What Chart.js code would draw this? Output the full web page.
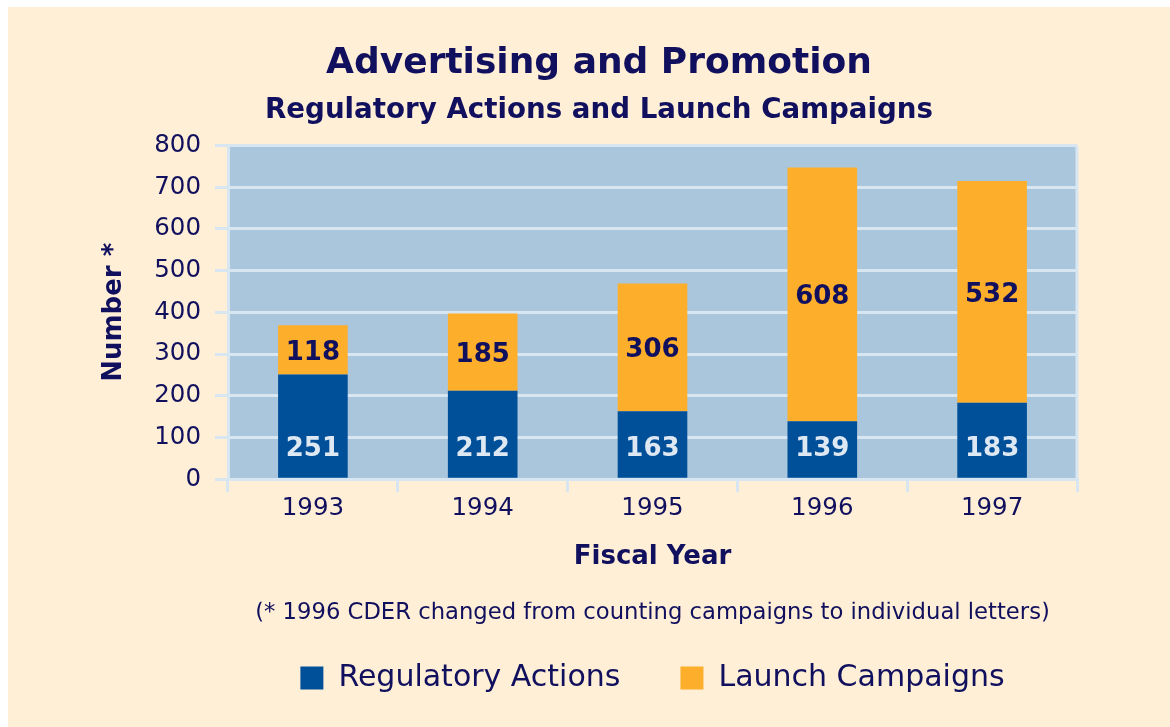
<!DOCTYPE html>
<html>
<head>
<meta charset="utf-8">
<script src="https://cdn.jsdelivr.net/npm/chart.js@4.4.1/dist/chart.umd.min.js"></script>
<style>
  html, body { margin: 0; padding: 0; background: #ffffff; }
  #wrap { position: absolute; left: 8px; top: 7px; width: 1162px; height: 720px; background: #FFEFD6; }
</style>
</head>
<body>
<div id="wrap"><canvas id="chart" width="1162" height="720"></canvas></div>
<script>
// values
const years = ["1993", "1994", "1995", "1996", "1997"];
const regulatoryActions = [251, 212, 163, 139, 183];
const launchCampaigns = [118, 185, 306, 608, 532];
const yTicks = [0, 100, 200, 300, 400, 500, 600, 700, 800];

const navy = "#10105E";
const gridCol = "#D8E6F1";
const fontFam = "'DejaVu Sans', sans-serif";

// light blue plot area with a pale frame
const plotBg = {
    id: "plotBg",
    beforeDraw(chart) {
        const a = chart.chartArea, ctx = chart.ctx;
        ctx.save();
        ctx.fillStyle = "#AAC6DD";
        ctx.fillRect(a.left, a.top, a.right - a.left, a.bottom - a.top);
        ctx.strokeStyle = gridCol;
        ctx.lineWidth = 3;
        ctx.beginPath();
        ctx.moveTo(a.right, a.top);
        ctx.lineTo(a.right, a.bottom);
        ctx.stroke();
        ctx.restore();
    }
};

// numbers inside the bars
const barLabels = {
    id: "barLabels",
    afterDatasetsDraw(chart) {
        const ctx = chart.ctx;
        ctx.save();
        ctx.font = "bold 26px " + fontFam;
        ctx.textAlign = "center";
        ctx.textBaseline = "middle";
        chart.data.datasets.forEach((ds, i) => {
            chart.getDatasetMeta(i).data.forEach((bar, j) => {
                let y;
                if (i === 0) {
                    ctx.fillStyle = "#DDE8F3";
                    y = bar.base - 28;
                } else {
                    ctx.fillStyle = navy;
                    y = (bar.y + bar.base) / 2 + 3;
                }
                ctx.fillText(ds.data[j], bar.x, y);
            });
        });
        ctx.restore();
    }
};

new Chart(document.getElementById("chart"), {
    type: "bar",
    data: {
        labels: years,
        datasets: [{
            label: "Regulatory Actions",
            data: regulatoryActions,
            backgroundColor: "#004F99"
        }, {
            label: "Launch Campaigns",
            data: launchCampaigns,
            backgroundColor: "#FDAE2A"
        }]
    },
    options: {
        responsive: false,
        animation: false,
        layout: { padding: { left: 113, right: 93, top: 0, bottom: 24 } },
        datasets: { bar: { categoryPercentage: 1, barPercentage: 0.41 } },
        scales: {
            x: {
                stacked: true,
                grid: { display: true, drawOnChartArea: false, tickLength: 13, color: gridCol, lineWidth: 3 },
                border: { display: true, color: gridCol, width: 3 },
                ticks: { color: navy, font: { family: fontFam, size: 24.5 }, padding: 2 },
                title: {
                    display: true, text: "Fiscal Year", color: navy,
                    font: { family: fontFam, size: 26, weight: "bold" },
                    padding: { top: 16, bottom: 29 }
                }
            },
            y: {
                stacked: true,
                min: 0, max: 800,
                afterFit(scale) { scale.width = 107; },
                afterBuildTicks(scale) { scale.ticks = yTicks.map(v => ({ value: v })); },
                grid: { color: gridCol, lineWidth: 3, tickLength: 13 },
                border: { display: true, color: gridCol, width: 3 },
                ticks: { color: navy, font: { family: fontFam, size: 24.5 }, padding: 14 },
                title: {
                    display: true, text: "Number *", color: navy,
                    font: { family: fontFam, size: 26, weight: "bold" },
                    padding: { top: -22, bottom: 0 }
                }
            }
        },
        plugins: {
            title: {
                display: true, text: "Advertising and Promotion", color: navy,
                font: { family: fontFam, size: 36, weight: "bold" },
                padding: { top: 35, bottom: 0 }
            },
            subtitle: {
                display: true, text: "Regulatory Actions and Launch Campaigns", color: navy,
                font: { family: fontFam, size: 27.7, weight: "bold" },
                padding: { top: 9, bottom: 18 }
            },
            legend: {
                position: "bottom",
                fullSize: false,
                title: {
                    display: true,
                    text: "(* 1996 CDER changed from counting campaigns to individual letters)",
                    color: navy,
                    font: { family: fontFam, size: 22.7 },
                    padding: { top: 0, bottom: -26 }
                },
                labels: {
                    color: navy,
                    font: { family: fontFam, size: 30 },
                    boxWidth: 23, boxHeight: 23,
                    padding: 60
                }
            },
            tooltip: { enabled: false }
        }
    },
    plugins: [plotBg, barLabels]
});
</script>
</body>
</html>
